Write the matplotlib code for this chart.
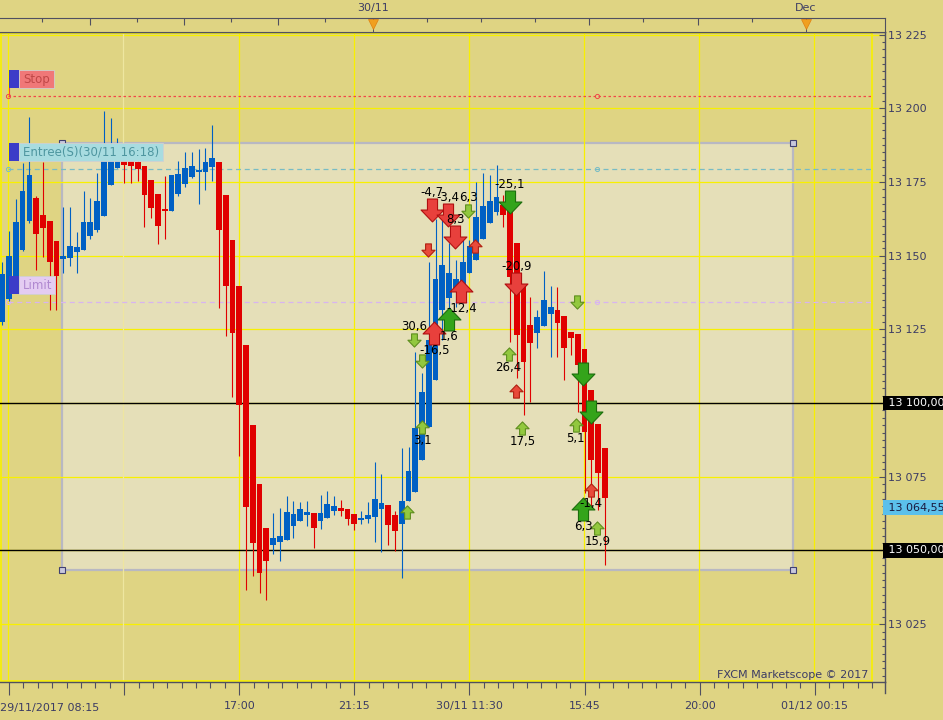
import numpy as np
import matplotlib
matplotlib.use("Agg")
import matplotlib.pyplot as plt
from matplotlib.patches import Rectangle
from matplotlib.path import Path
import matplotlib.transforms as mtransforms

# GER30, 15 minute bars
opens = [13127.5, 13135.3, 13143.1, 13151.9, 13161.7, 13169.5, 13163.8, 13161.7, 13154.9, 13148.8,
         13149.2, 13151.2, 13151.9, 13156.6, 13158.7, 13163.4, 13174.0, 13179.7, 13182.4, 13182.1,
         13181.7, 13180.4, 13175.6, 13170.9, 13165.8, 13165.1, 13170.9, 13174.3, 13176.7, 13178.4,
         13178.4, 13180.1, 13181.7, 13170.6, 13155.3, 13139.7, 13119.7, 13092.5, 13072.5, 13057.6,
         13051.8, 13052.9, 13053.5, 13058.3, 13060.0, 13062.0, 13062.7, 13060.0, 13061.0, 13063.4,
         13064.4, 13064.0, 13062.3, 13060.3, 13060.6, 13061.3, 13064.0, 13065.4, 13062.0, 13058.9,
         13066.8, 13069.8, 13080.7, 13091.9, 13107.8, 13131.5, 13135.6, 13138.3, 13137.7, 13144.1,
         13148.5, 13155.6, 13161.1, 13164.8, 13167.2, 13165.5, 13154.3, 13139.7, 13126.5, 13123.7,
         13126.1, 13130.2, 13131.5, 13129.5, 13124.1, 13123.4, 13118.3, 13104.4, 13092.9, 13084.7]
highs = [13147.8, 13158.3, 13169.2, 13181.4, 13197.0, 13170.2, 13181.7, 13161.7, 13154.9, 13166.5,
         13166.5, 13158.0, 13171.9, 13169.5, 13178.0, 13199.0, 13196.7, 13189.9, 13184.1, 13183.1,
         13182.4, 13180.4, 13175.6, 13170.9, 13177.0, 13177.3, 13182.1, 13185.1, 13185.1, 13186.2,
         13186.5, 13194.3, 13181.7, 13170.6, 13155.3, 13139.7, 13119.7, 13092.5, 13072.5, 13057.6,
         13062.7, 13064.4, 13068.5, 13066.8, 13066.4, 13066.8, 13062.7, 13068.8, 13070.2, 13068.5,
         13067.1, 13064.0, 13062.3, 13063.4, 13066.4, 13080.0, 13075.9, 13065.4, 13063.4, 13084.7,
         13085.1, 13117.3, 13110.2, 13147.8, 13162.4, 13162.4, 13154.3, 13148.5, 13155.3, 13155.3,
         13175.0, 13178.0, 13177.3, 13180.7, 13170.6, 13165.5, 13154.3, 13139.7, 13136.0, 13131.5,
         13144.8, 13139.7, 13139.4, 13129.5, 13124.1, 13123.4, 13118.3, 13104.4, 13092.9, 13084.7]
lows = [13126.5, 13134.6, 13143.1, 13151.6, 13161.1, 13145.1, 13149.5, 13131.5, 13131.5, 13144.1,
        13146.5, 13144.1, 13151.9, 13155.6, 13158.0, 13163.4, 13174.0, 13179.7, 13174.6, 13174.6,
        13175.3, 13159.7, 13162.8, 13153.9, 13155.6, 13165.1, 13170.2, 13173.3, 13176.3, 13167.5,
        13172.3, 13175.3, 13132.2, 13122.7, 13102.0, 13082.0, 13036.6, 13041.3, 13035.5, 13033.2,
        13048.8, 13046.4, 13053.5, 13054.2, 13060.0, 13058.3, 13050.8, 13057.3, 13061.0, 13062.0,
        13061.7, 13058.6, 13056.9, 13058.9, 13059.3, 13052.9, 13049.5, 13051.8, 13049.8, 13040.6,
        13066.8, 13069.8, 13080.7, 13091.9, 13107.8, 13121.4, 13130.9, 13132.6, 13133.9, 13144.1,
        13148.5, 13155.6, 13161.1, 13163.8, 13159.7, 13120.7, 13108.5, 13095.9, 13100.3, 13118.7,
        13126.1, 13115.6, 13115.6, 13107.8, 13116.3, 13097.0, 13069.5, 13064.4, 13063.7, 13045.1]
closes = [13143.8, 13149.9, 13161.4, 13171.9, 13177.3, 13157.3, 13159.4, 13147.8, 13143.1, 13149.9,
          13153.3, 13152.9, 13161.4, 13161.4, 13168.5, 13182.5, 13184.1, 13183.4, 13180.7, 13180.4,
          13179.4, 13170.6, 13166.2, 13160.0, 13165.1, 13177.3, 13177.7, 13179.7, 13180.4, 13178.7,
          13181.7, 13183.1, 13158.7, 13139.7, 13123.7, 13099.3, 13064.7, 13052.5, 13042.3, 13046.4,
          13054.2, 13054.9, 13063.0, 13062.3, 13064.0, 13063.0, 13057.6, 13062.7, 13065.7, 13065.1,
          13063.4, 13060.6, 13058.9, 13061.0, 13062.0, 13067.4, 13066.1, 13058.6, 13056.6, 13066.8,
          13076.9, 13091.5, 13103.7, 13121.4, 13142.1, 13146.8, 13144.1, 13142.1, 13147.8, 13153.3,
          13163.1, 13166.8, 13168.5, 13169.9, 13163.8, 13142.7, 13123.1, 13113.9, 13120.3, 13129.2,
          13135.0, 13132.6, 13127.1, 13118.7, 13122.0, 13112.9, 13090.2, 13080.7, 13076.3, 13067.8]

# trade arrows: bar position, price, direction, big/small, colour, P/L label
arrow_bar = [63.5, 65.8, 66.9, 68.8, 62.9, 69.8, 67.8, 66.0, 63.8, 60.8, 62.0, 62.0, 59.8,
             75.0, 75.9, 74.8, 75.9, 76.8, 84.9, 85.8, 87.0, 84.7, 87.0, 85.8, 87.9]
arrow_price = [13165.5, 13163.8, 13156.3, 13165.1, 13151.9, 13153.3, 13138.0, 13128.5, 13123.7,
               13121.4, 13114.2, 13091.9, 13063.0, 13168.2, 13140.4, 13116.6, 13104.1, 13091.5,
               13134.3, 13109.8, 13097.0, 13092.5, 13070.5, 13064.0, 13057.6]
arrow_dir = ["down", "down", "down", "down", "down", "up", "up", "up", "up", "down", "down", "up", "up",
             "down", "down", "up", "up", "up", "down", "down", "down", "up", "up", "up", "up"]
arrow_big = [1, 1, 1, 0, 0, 0, 1, 1, 1, 0, 0, 0, 0,
             1, 1, 0, 0, 0, 0, 1, 1, 0, 0, 1, 0]
arrow_col = ["red", "red", "red", "green", "red", "red", "red", "green", "red", "green", "green", "green", "green",
             "green", "red", "green", "red", "green", "green", "green", "green", "green", "red", "green", "green"]
arrow_label = ["-4,7", "-3,4", "8,3", "6,3", "", "", "-12,4", "1,6", "-16,5", "30,6", "", "3,1", "",
               "-25,1", "-20,9", "26,4", "", "17,5", "", "", "", "5,1", "-1,4", "6,3", "15,9"]

# order levels
stop_level = 13204.0
entry_level = 13179.3
limit_level = 13134.2
zone_bars = [8.82, 116.8]
zone_prices = [13043.4, 13188.2]
black_levels = [13100.0, 13050.0]
last_price = 13064.55

# time axis
grid_bars = [1, 18, 35, 52, 69, 86, 103, 120]
grid_labels = ["", "", "17:00", "21:15", "30/11 11:30", "15:45", "20:00", "01/12 00:15"]
first_label = "29/11/2017 08:15"
top_major = [12.95, 26.84, 40.72, 86.66, 102.76]
top_minor = [5.86, 19.90, 33.78, 47.67, 62.73, 70.71, 78.68, 94.64, 110.74]
top_marks = [54.76, 118.71]
top_mark_labels = ["30/11", "Dec"]

BG = "#DFD483"
ZONE = "#E5DFB8"
YEL = "#F8F000"
AXC = "#505060"
TXT = "#3C3C64"
BLUE = "#0060C4"
RED = "#E00000"

plt.rcParams["font.family"] = ["DejaVu Sans"]

fig = plt.figure(figsize=(9.43, 7.2), dpi=100, facecolor=BG)
ax = fig.add_axes([0, 38 / 720, 885 / 943, 650 / 720])
ax.set_facecolor(BG)
ax.set_xlim(-0.34, 130.38)
ax.set_ylim(13005.4, 13225.85)

# zone rectangle
ax.add_patch(Rectangle((zone_bars[0], zone_prices[0]), zone_bars[1] - zone_bars[0],
                       zone_prices[1] - zone_prices[0], fc=ZONE, ec="#B8B8C2", lw=1.6, zorder=1))

# grid
for p in np.arange(13025, 13226, 25):
    ax.axhline(p, color=YEL, lw=0.9, zorder=1.5)
for i, b in enumerate(grid_bars):
    ax.axvline(b - 0.1, color=YEL if i != 1 else "#EEE6A0", lw=0.9, zorder=1.5)
ax.add_patch(Rectangle((0.001, 0.0015), 871 / 885, 0.997, transform=ax.transAxes,
                       fill=False, ec=YEL, lw=1.2, zorder=1.6))

for lv in black_levels:
    ax.axhline(lv, color="black", lw=1.0, zorder=2)

# order lines
ax.hlines(stop_level, 0.9, 128.3, colors="#F04848", linestyles=(0, (2, 2)), lw=0.9, zorder=2)
ax.hlines(entry_level, 0.9, 128.3, colors="#78BCC4", linestyles=(0, (4, 3)), lw=0.9, zorder=2)
ax.hlines(limit_level, 0.9, 128.3, colors="#D8B4F0", linestyles=(0, (4, 3)), lw=0.9, zorder=2)
for lv, cl in [(stop_level, "#F04848"), (entry_level, "#78BCC4"), (limit_level, "#D8B4F0")]:
    ax.plot([0.9, 87.8], [lv, lv], "o", ms=3, mfc="none", mec=cl, mew=0.7, zorder=2.1)

# candles
x = np.arange(len(opens))
o = np.array(opens)
h = np.array(highs)
l = np.array(lows)
c = np.array(closes)
cols = np.where(c >= o, BLUE, RED)
ax.vlines(x, l, h, colors=cols, lw=0.8, zorder=3)
ax.bar(x, np.maximum(np.abs(c - o), 0.5), bottom=np.minimum(o, c), width=0.85,
       color=cols, lw=0, zorder=4)

# zone handles
hx = [zone_bars[0], zone_bars[1], zone_bars[0], zone_bars[1]]
hy = [zone_prices[1], zone_prices[1], zone_prices[0], zone_prices[0]]
ax.plot(hx, hy, "s", ms=5, mfc="#C8C8DC", mec="#404070", mew=0.8, zorder=5)

# arrows
dv = [(-0.22, 0.5), (0.22, 0.5), (0.22, 0.02), (0.5, 0.02), (0, -0.5), (-0.5, 0.02), (-0.22, 0.02), (-0.22, 0.5)]
codes = [Path.MOVETO] + [Path.LINETO] * 6 + [Path.CLOSEPOLY]
down_path = Path(dv, codes)
up_path = Path([(vx, -vy) for vx, vy in dv], codes)
styles = {
    ("red", 1): ("#E8403C", "#B01010"),
    ("red", 0): ("#E84A3A", "#B02010"),
    ("green", 1): ("#34A41A", "#1C6E0C"),
    ("green", 0): ("#92C83E", "#5E8E1E"),
}
for bx, by, d, big, col, lab in zip(arrow_bar, arrow_price, arrow_dir, arrow_big, arrow_col, arrow_label):
    fc, ec = styles[(col, big)]
    ms = 16.5 if big else 9.5
    ax.plot(bx, by, marker=down_path if d == "down" else up_path, ms=ms, mfc=fc, mec=ec,
            mew=0.8, ls="none", zorder=6)
    if lab:
        off = 12.5 if big else 9.5
        ax.annotate(lab, (bx, by), xytext=(0, off if d == "down" else -off), textcoords="offset points",
                    ha="center", va="center", fontsize=8.5, color="black", zorder=7)

# order tags
def tag(y0, y1, x1, text, fc, tc):
    ax.add_patch(Rectangle((9 / 885, y0), 10 / 885, y1 - y0, transform=ax.transAxes,
                           fc="#3C3CC8", ec="none", zorder=8))
    ax.add_patch(Rectangle((19 / 885, y0), (x1 - 19) / 885, y1 - y0, transform=ax.transAxes,
                           fc=fc, ec="#D0D0D0", lw=0.6, zorder=8))
    ax.text(23 / 885, (y0 + y1) / 2, text, transform=ax.transAxes, color=tc, fontsize=8.5,
            va="center", ha="left", zorder=9)

tag(0.9138, 0.9415, 54, "Stop", "#F07878", "#C04848")
ax.plot([9 / 885, 9 / 885], [0.9138, 0.9015], color="#F04848", lw=0.8, transform=ax.transAxes, zorder=8)
tag(0.8015, 0.8292, 163, "Entree(S)(30/11 16:18)", "#A8DCE0", "#4E96A0")
tag(0.5969, 0.6246, 55, "Limit", "#E4CCF2", "#B088D0")

ax.text(868 / 885, (682 - 675) / 650, "FXCM Marketscope \u00a9 2017", transform=ax.transAxes,
        ha="right", va="center", fontsize=8, color=TXT, zorder=9)

# axes styling
for s in ["top", "bottom", "right"]:
    ax.spines[s].set_color(AXC)
    ax.spines[s].set_linewidth(1.0)
ax.spines["left"].set_visible(False)

ax.set_xticks(grid_bars)
ax.set_xticklabels(grid_labels)
ax.set_xticks(np.arange(1, 130, 17 / 8), minor=True)
ax.tick_params(axis="x", which="major", direction="out", length=9, width=0.8, color=AXC,
               labelsize=8, labelcolor=TXT, pad=5)
ax.tick_params(axis="x", which="minor", direction="out", length=4.5, width=0.8, color=AXC)
ax.text(0.0, -26 / 650, first_label, transform=ax.transAxes, ha="left", va="center",
        fontsize=8, color=TXT)

yt = np.arange(13025, 13226, 25)
ax.set_yticks(yt)
ax.set_yticklabels(["" if v in black_levels else f"{v:,.0f}".replace(",", " ") for v in yt])
ax.set_yticks(np.arange(13007.5, 13226, 2.5), minor=True)
ax.yaxis.tick_right()
ax.tick_params(axis="y", which="major", direction="in", length=4.5, width=0.8, color=AXC,
               labelsize=8, labelcolor=TXT, pad=2.5)
ax.tick_params(axis="y", which="minor", direction="in", length=2.5, width=0.8, color=AXC)

# price boxes on the right
bt = mtransforms.blended_transform_factory(ax.transAxes, ax.transData)
for lv in black_levels:
    ax.text(1.0, lv, " " + f"{lv:,.2f}".replace(",", " ").replace(".", ",") + "  ", transform=bt,
            ha="left", va="center", fontsize=8, color="white", clip_on=False, zorder=10,
            bbox=dict(boxstyle="square,pad=0.2", fc="black", ec="none"))
ax.text(1.0, last_price, " " + f"{last_price:,.2f}".replace(",", " ").replace(".", ",") + "  ",
        transform=bt, ha="left", va="center", fontsize=8, color="#1A1A40", clip_on=False, zorder=10,
        bbox=dict(boxstyle="square,pad=0.2", fc="#5BC0EB", ec="none"))

# right spine continues under the time axis
fig.add_artist(plt.Line2D([885 / 943, 885 / 943], [27 / 720, 38 / 720], color=AXC, lw=1.0))

# top date band
axt = fig.add_axes([0, 1 - 32 / 720, 885 / 943, 14 / 720])
axt.set_facecolor(BG)
axt.set_xlim(ax.get_xlim())
axt.set_ylim(0, 1)
axt.spines["left"].set_visible(False)
for s in ["top", "bottom", "right"]:
    axt.spines[s].set_color(AXC)
axt.set_yticks([])
axt.xaxis.tick_top()
axt.set_xticks(top_major + top_marks)
axt.set_xticks(top_minor, minor=True)
axt.tick_params(axis="x", which="major", direction="in", length=5, width=0.8, color=AXC, labeltop=False)
axt.tick_params(axis="x", which="minor", direction="in", length=3, width=0.8, color=AXC)
for b, lab in zip(top_marks, top_mark_labels):
    axt.plot([b, b], [0, 1], color=AXC, lw=0.7)
    axt.plot(b, 0.6, "v", ms=7, color="#F0A020", mec="#E08010", mew=0.5)
    axt.text(b, 1 + 10 / 14, lab, ha="center", va="center", fontsize=8, color=TXT, clip_on=False)

fig.savefig("out.png", dpi=100, facecolor=BG)
